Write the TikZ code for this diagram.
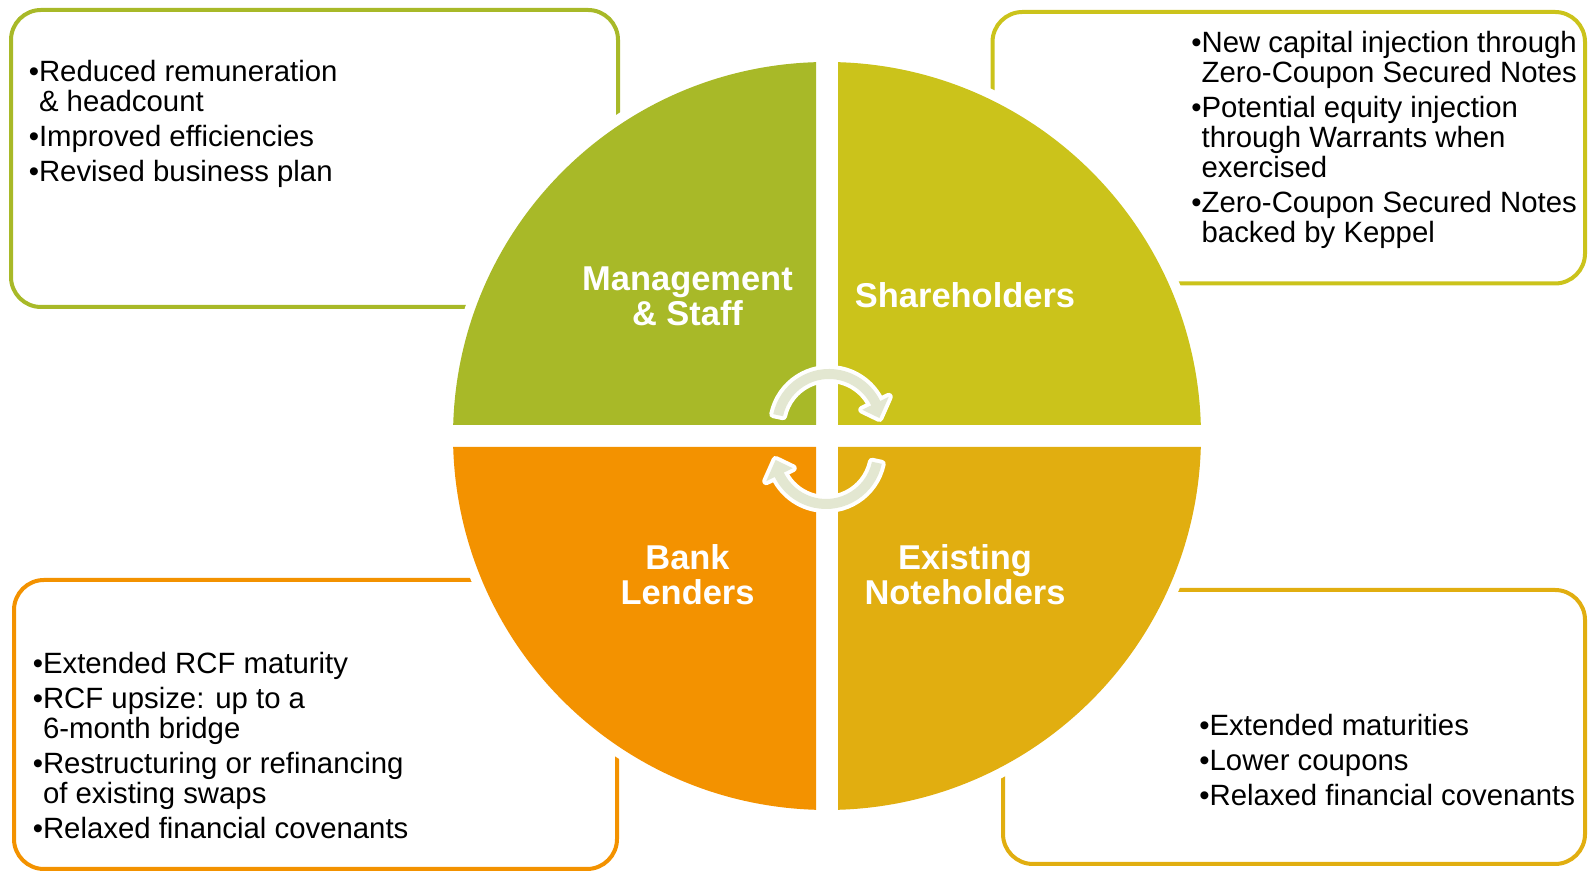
\documentclass[tikz,border=0pt]{standalone}
\usepackage{fontspec}
\setmainfont{Liberation Sans}
\usepackage{tikz}
\usetikzlibrary{positioning}

\definecolor{mgmt}{RGB}{168,185,40}
\definecolor{share}{RGB}{203,195,27}
\definecolor{bank}{RGB}{243,146,0}
\definecolor{notes}{RGB}{225,174,16}
\definecolor{arrowgray}{RGB}{227,231,209}

\newcommand{\blt}{\textbullet}
\newcommand{\ind}{\hphantom{\textbullet}}

\tikzset{
  box/.style={line width=0.08cm, rounded corners=0.6cm},
  points/.style={anchor=north west, inner sep=0pt, align=left,
    font=\fontsize{16.7}{17.1}\selectfont},
  partname/.style={text=white, align=center,
    font=\fontsize{19.6}{20.1}\selectfont\bfseries},
  turn/.style={fill=arrowgray, preaction={draw=white, line width=0.16cm, line join=round}}
}

\begin{document}
\begin{tikzpicture}
\useasboundingbox (0,0) rectangle (31.76,17.42);

% boxes behind the circle
\draw [box, mgmt] (0.22, 11.28) rectangle (12.36, 17.22);
\draw [box, share] (19.85, 11.75) rectangle (31.70, 17.18);
\draw [box, bank] (0.28, 0.04) rectangle (12.34, 5.82);
\draw [box, notes] (20.06, 0.14) rectangle (31.70, 5.62);

% circle in four parts
\coordinate (C) at (16.54, 8.70);
\fill [white] (C) circle (7.68);
\fill [share] (16.76, 8.92) -- ([shift={(C)}]1.685:7.48) arc [start angle=1.685, end angle=88.315, radius=7.48] -- cycle;
\fill [mgmt] (16.32, 8.92) -- ([shift={(C)}]91.685:7.48) arc [start angle=91.685, end angle=178.315, radius=7.48] -- cycle;
\fill [bank] (16.32, 8.48) -- ([shift={(C)}]181.685:7.48) arc [start angle=181.685, end angle=268.315, radius=7.48] -- cycle;
\fill [notes] (16.76, 8.48) -- ([shift={(C)}]271.685:7.48) arc [start angle=271.685, end angle=358.315, radius=7.48] -- cycle;

% turning arrows
\coordinate (T) at (16.58, 8.90);
\coordinate (U) at (16.52, 8.38);
\path [turn] ([shift={(T)}]168:1.14) arc [start angle=168, end angle=26, radius=1.14]
  -- ([shift={(T)}]26:1.33) -- ([shift={(T)}]9:1.02) -- ([shift={(T)}]26:0.74)
  -- ([shift={(T)}]26:0.94) arc [start angle=26, end angle=168, radius=0.94] -- cycle;
\path [turn] ([shift={(U)}]-12:1.14) arc [start angle=-12, end angle=-154, radius=1.14]
  -- ([shift={(U)}]-154:1.33) -- ([shift={(U)}]-171:1.02) -- ([shift={(U)}]-154:0.74)
  -- ([shift={(U)}]-154:0.94) arc [start angle=-154, end angle=-12, radius=0.94] -- cycle;

% part names
\node [partname] (M) at (13.75, 11.50) {Management\\\& Staff};
\node [partname] (S) at (19.30, 11.51) {Shareholders};
\node [partname] (B) at (13.75, 5.93) {Bank\\Lenders};
\node [partname] (N) at (19.30, 5.93) {Existing\\Noteholders};

% box texts
\node [points] (Mtxt) at (0.568, 16.22) {\blt Reduced remuneration\\
  \ind\& headcount\\[2.8pt]
  \blt Improved efficiencies\\[2.8pt]
  \blt Revised business plan};
\node [points] (Stxt) at (23.82, 16.81) {\blt New capital injection through\\
  \ind Zero-Coupon Secured Notes\\[2.8pt]
  \blt Potential equity injection\\
  \ind through Warrants when\\
  \ind exercised\\[2.8pt]
  \blt Zero-Coupon Secured Notes\\
  \ind backed by Keppel};
\node [points] (Btxt) at (0.648, 4.38) {\blt Extended RCF maturity\\[2.8pt]
  \blt RCF upsize: up to a\\
  \ind 6-month bridge\\[2.8pt]
  \blt Restructuring or refinancing\\
  \ind of existing swaps\\[2.8pt]
  \blt Relaxed financial covenants};
\node [points] (Ntxt) at (23.98, 3.14) {\blt Extended maturities\\[2.8pt]
  \blt Lower coupons\\[2.8pt]
  \blt Relaxed financial covenants};
\end{tikzpicture}
\end{document}
